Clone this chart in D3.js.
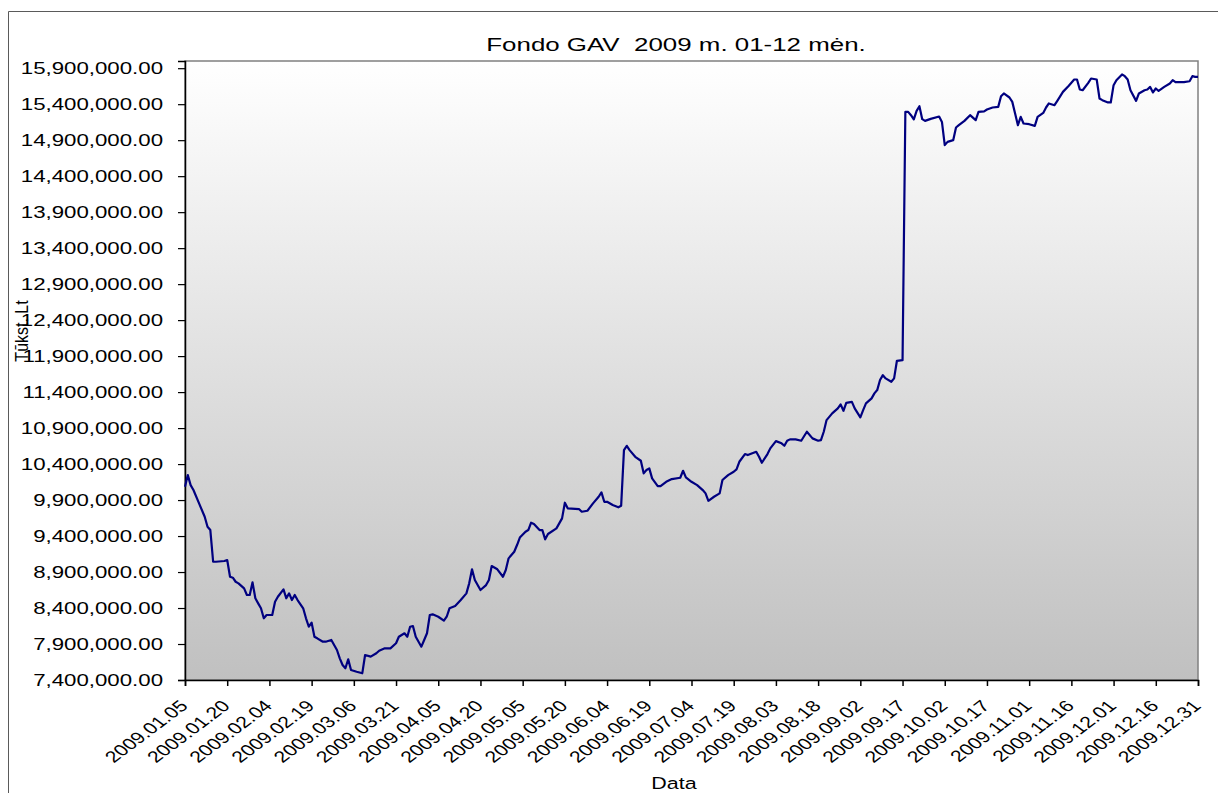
<!DOCTYPE html>
<html><head><meta charset="utf-8">
<script src="https://cdn.jsdelivr.net/npm/d3@7/dist/d3.min.js"></script>
<style>body{margin:0;background:#fff;} svg{display:block;} text{font-family:"Liberation Sans",Arial,sans-serif;fill:#000;}</style>
</head><body><svg id="c" width="1218" height="793"></svg>
<script>
const chartTitle = "Fondo GAV  2009 m. 01-12 mėn.";
const yAxisTitle = "Tūkst. Lt";
const xAxisTitle = "Data";

const dates = [
"2009-01-05","2009-01-06","2009-01-07","2009-01-08","2009-01-10","2009-01-12","2009-01-13","2009-01-14","2009-01-15","2009-01-16",
"2009-01-19","2009-01-20","2009-01-21","2009-01-22","2009-01-23","2009-01-24","2009-01-26","2009-01-27","2009-01-28","2009-01-29",
"2009-01-30","2009-01-31","2009-02-01","2009-02-02","2009-02-03","2009-02-05","2009-02-06","2009-02-07","2009-02-09","2009-02-10",
"2009-02-11","2009-02-12","2009-02-13","2009-02-14","2009-02-16","2009-02-17","2009-02-18","2009-02-19","2009-02-20","2009-02-21",
"2009-02-23","2009-02-24","2009-02-26","2009-02-28","2009-03-01","2009-03-02","2009-03-03","2009-03-04","2009-03-05","2009-03-07",
"2009-03-09","2009-03-10","2009-03-12","2009-03-14","2009-03-15","2009-03-17","2009-03-19","2009-03-21","2009-03-22","2009-03-24",
"2009-03-25","2009-03-26","2009-03-27","2009-03-28","2009-03-29","2009-03-30","2009-03-31","2009-04-01","2009-04-02","2009-04-03",
"2009-04-05","2009-04-07","2009-04-08","2009-04-09","2009-04-11","2009-04-13","2009-04-15","2009-04-16","2009-04-17","2009-04-18",
"2009-04-20","2009-04-22","2009-04-23","2009-04-24","2009-04-26","2009-04-28","2009-04-29","2009-04-30","2009-05-02","2009-05-03",
"2009-05-04","2009-05-06","2009-05-07","2009-05-08","2009-05-09","2009-05-11","2009-05-12","2009-05-13","2009-05-14","2009-05-17",
"2009-05-18","2009-05-19","2009-05-20","2009-05-21","2009-05-25","2009-05-26","2009-05-28","2009-05-30","2009-06-01","2009-06-02",
"2009-06-03","2009-06-04","2009-06-06","2009-06-08","2009-06-09","2009-06-10","2009-06-11","2009-06-12","2009-06-14","2009-06-16",
"2009-06-17","2009-06-18","2009-06-19","2009-06-20","2009-06-22","2009-06-23","2009-06-25","2009-06-27","2009-06-30","2009-07-01",
"2009-07-02","2009-07-04","2009-07-06","2009-07-08","2009-07-09","2009-07-10","2009-07-12","2009-07-14","2009-07-15","2009-07-17",
"2009-07-19","2009-07-20","2009-07-21","2009-07-23","2009-07-24","2009-07-27","2009-07-28","2009-07-29","2009-07-31","2009-08-01",
"2009-08-03","2009-08-05","2009-08-06","2009-08-07","2009-08-08","2009-08-10","2009-08-12","2009-08-14","2009-08-16","2009-08-18",
"2009-08-19","2009-08-20","2009-08-21","2009-08-23","2009-08-25","2009-08-26","2009-08-27","2009-08-28","2009-08-30","2009-08-31",
"2009-09-02","2009-09-03","2009-09-04","2009-09-06","2009-09-07","2009-09-08","2009-09-09","2009-09-10","2009-09-11","2009-09-13",
"2009-09-14","2009-09-15","2009-09-17","2009-09-18","2009-09-19","2009-09-20","2009-09-21","2009-09-22","2009-09-23","2009-09-24",
"2009-09-25","2009-09-27","2009-09-30","2009-10-01","2009-10-02","2009-10-03","2009-10-05","2009-10-06","2009-10-07","2009-10-09",
"2009-10-11","2009-10-13","2009-10-14","2009-10-16","2009-10-17","2009-10-19","2009-10-21","2009-10-22","2009-10-23","2009-10-25",
"2009-10-26","2009-10-27","2009-10-28","2009-10-29","2009-10-30","2009-11-01","2009-11-03","2009-11-04","2009-11-06","2009-11-07",
"2009-11-08","2009-11-10","2009-11-11","2009-11-13","2009-11-15","2009-11-17","2009-11-18","2009-11-19","2009-11-20","2009-11-22",
"2009-11-23","2009-11-25","2009-11-26","2009-11-27","2009-11-29","2009-11-30","2009-12-01","2009-12-02","2009-12-04","2009-12-05",
"2009-12-06","2009-12-07","2009-12-09","2009-12-10","2009-12-12","2009-12-13","2009-12-14","2009-12-15","2009-12-16","2009-12-17",
"2009-12-19","2009-12-21","2009-12-22","2009-12-23","2009-12-26","2009-12-28","2009-12-29","2009-12-30","2009-12-31"
];

const values = [
10085000,10247000,10108000,10039000,9854000,9668000,9529000,9483000,9043000,9043000,
9053000,9067000,8835000,8821000,8765000,8743000,8674000,8581000,8581000,8757000,
8535000,8465000,8396000,8257000,8303000,8303000,8488000,8557000,8660000,8535000,
8604000,8511000,8581000,8511000,8396000,8257000,8140000,8196000,8001000,7979000,
7932000,7932000,7956000,7817000,7701000,7608000,7563000,7688000,7539000,7515000,
7493000,7747000,7724000,7771000,7807000,7840000,7840000,7910000,8001000,8049000,
8001000,8140000,8150000,8001000,7932000,7863000,7956000,8049000,8303000,8312000,
8279000,8224000,8279000,8396000,8428000,8511000,8604000,8743000,8938000,8789000,
8650000,8719000,8789000,8983000,8938000,8835000,8928000,9090000,9182000,9275000,
9379000,9460000,9483000,9585000,9567000,9483000,9483000,9354000,9428000,9507000,
9576000,9646000,9863000,9785000,9775000,9738000,9751000,9854000,9946000,10007000,
9876000,9876000,9831000,9799000,9821000,10594000,10654000,10594000,10501000,10446000,
10271000,10317000,10340000,10201000,10094000,10094000,10154000,10192000,10210000,10307000,
10215000,10154000,10108000,10039000,9993000,9890000,9946000,9993000,10178000,10247000,
10293000,10326000,10432000,10539000,10525000,10571000,10501000,10418000,10539000,10618000,
10719000,10688000,10654000,10724000,10743000,10743000,10724000,10849000,10757000,10724000,
10733000,10849000,11011000,11104000,11174000,11229000,11140000,11251000,11265000,11174000,
11049000,11150000,11243000,11313000,11382000,11428000,11567000,11636000,11590000,11543000,
11590000,11835000,11844000,15293000,15293000,15247000,15188000,15307000,15372000,15192000,
15168000,15196000,15229000,15154000,14831000,14876000,14900000,15076000,15108000,15168000,
15247000,15178000,15293000,15301000,15326000,15354000,15363000,15511000,15549000,15493000,
15432000,15271000,15108000,15224000,15132000,15122000,15099000,15224000,15279000,15354000,
15410000,15386000,15446000,15571000,15654000,15743000,15743000,15604000,15594000,15696000,
15757000,15743000,15479000,15456000,15424000,15424000,15664000,15733000,15813000,15789000,
15743000,15594000,15446000,15549000,15594000,15604000,15640000,15563000,15618000,15585000,
15640000,15688000,15733000,15706000,15706000,15719000,15789000,15779000,15779000
];

const xTickLabels = ["2009.01.05","2009.01.20","2009.02.04","2009.02.19","2009.03.06","2009.03.21","2009.04.05","2009.04.20","2009.05.05","2009.05.20","2009.06.04","2009.06.19","2009.07.04","2009.07.19","2009.08.03","2009.08.18","2009.09.02","2009.09.17","2009.10.02","2009.10.17","2009.11.01","2009.11.16","2009.12.01","2009.12.16","2009.12.31"];
const yTickValues = [7400000,7900000,8400000,8900000,9400000,9900000,10400000,10900000,11400000,11900000,12400000,12900000,13400000,13900000,14400000,14900000,15400000,15900000];
const yDomain = [7400000, 16000000];

const parse = d3.utcParse("%Y-%m-%d");
const parseTick = d3.utcParse("%Y.%m.%d");
const series = dates.map((d, i) => ({date: parse(d), value: values[i]}));

const svg = d3.select("#c");
const L = 185, R = 1198, T = 61, B = 680;

const x = d3.scaleUtc().domain([parseTick(xTickLabels[0]), parseTick(xTickLabels[xTickLabels.length - 1])]).range([L, R]);
const y = d3.scaleLinear().domain(yDomain).range([B, T]);

// outer frame
svg.append("line").attr("x1", 8.5).attr("x2", 8.5).attr("y1", 11.5).attr("y2", 793).attr("stroke", "#5a5a5a").attr("stroke-width", 1);
svg.append("line").attr("x1", 8.5).attr("x2", 1218).attr("y1", 11.5).attr("y2", 11.5).attr("stroke", "#5a5a5a").attr("stroke-width", 1);

// gradient
const defs = svg.append("defs");
const grad = defs.append("linearGradient").attr("id", "bg").attr("x1", 0).attr("y1", 0).attr("x2", 0).attr("y2", 1);
grad.append("stop").attr("offset", "0%").attr("stop-color", "#ffffff");
grad.append("stop").attr("offset", "100%").attr("stop-color", "#c0c0c0");

svg.append("rect").attr("x", L).attr("y", T).attr("width", R - L).attr("height", B - T)
  .attr("fill", "url(#bg)").attr("stroke", "#808080").attr("stroke-width", 1.5);

// title
svg.append("text").attr("transform", "translate(676,51) scale(1.4,1)")
  .attr("text-anchor", "middle").attr("xml:space", "preserve").style("white-space", "pre")
  .style("font-size", "18.5px").text(chartTitle);

// y axis
const yAxis = d3.axisLeft(y).tickValues(yTickValues).tickSize(7).tickFormat(() => "");
const gy = svg.append("g").attr("transform", `translate(${L},0)`).call(yAxis);
gy.select(".domain").attr("stroke", "#000").attr("stroke-width", 1.5);
gy.selectAll(".tick line").attr("stroke", "#000").attr("stroke-width", 1.2);
const fmt = d3.format(",.2f");
svg.append("g").selectAll("text").data(yTickValues).join("text")
  .attr("transform", d => `translate(163,${y(d) + 6}) scale(1.39,1)`)
  .attr("text-anchor", "end").style("font-size", "16px").text(d => fmt(d));

// x axis
const xTicks = xTickLabels.map(parseTick);
const xAxis = d3.axisBottom(x).tickValues(xTicks).tickSize(6).tickFormat(() => "");
const gx = svg.append("g").attr("transform", `translate(0,${B})`).call(xAxis);
gx.select(".domain").attr("stroke", "#000").attr("stroke-width", 1.5);
gx.selectAll(".tick line").attr("stroke", "#000").attr("stroke-width", 1.5);
svg.append("g").selectAll("text").data(xTickLabels).join("text")
  .attr("transform", (d) => `translate(${x(parseTick(d)) + 4},707) scale(1.33,1) rotate(-45)`)
  .attr("text-anchor", "end").style("font-size", "16px").text(d => d);

// axis titles
svg.append("text").attr("transform", "translate(674,789) scale(1.3,1)").attr("text-anchor", "middle")
  .style("font-size", "16.5px").text(xAxisTitle);
svg.append("text").attr("transform", "translate(28,331) scale(1.1,1) rotate(-90)").attr("text-anchor", "middle")
  .style("font-size", "16px").text(yAxisTitle);

// line
const line = d3.line().x(d => x(d.date)).y(d => y(d.value));
svg.append("path").datum(series).attr("d", line).attr("fill", "none")
  .attr("stroke", "#000080").attr("stroke-width", 2.2).attr("stroke-linejoin", "round");
</script></body></html>
